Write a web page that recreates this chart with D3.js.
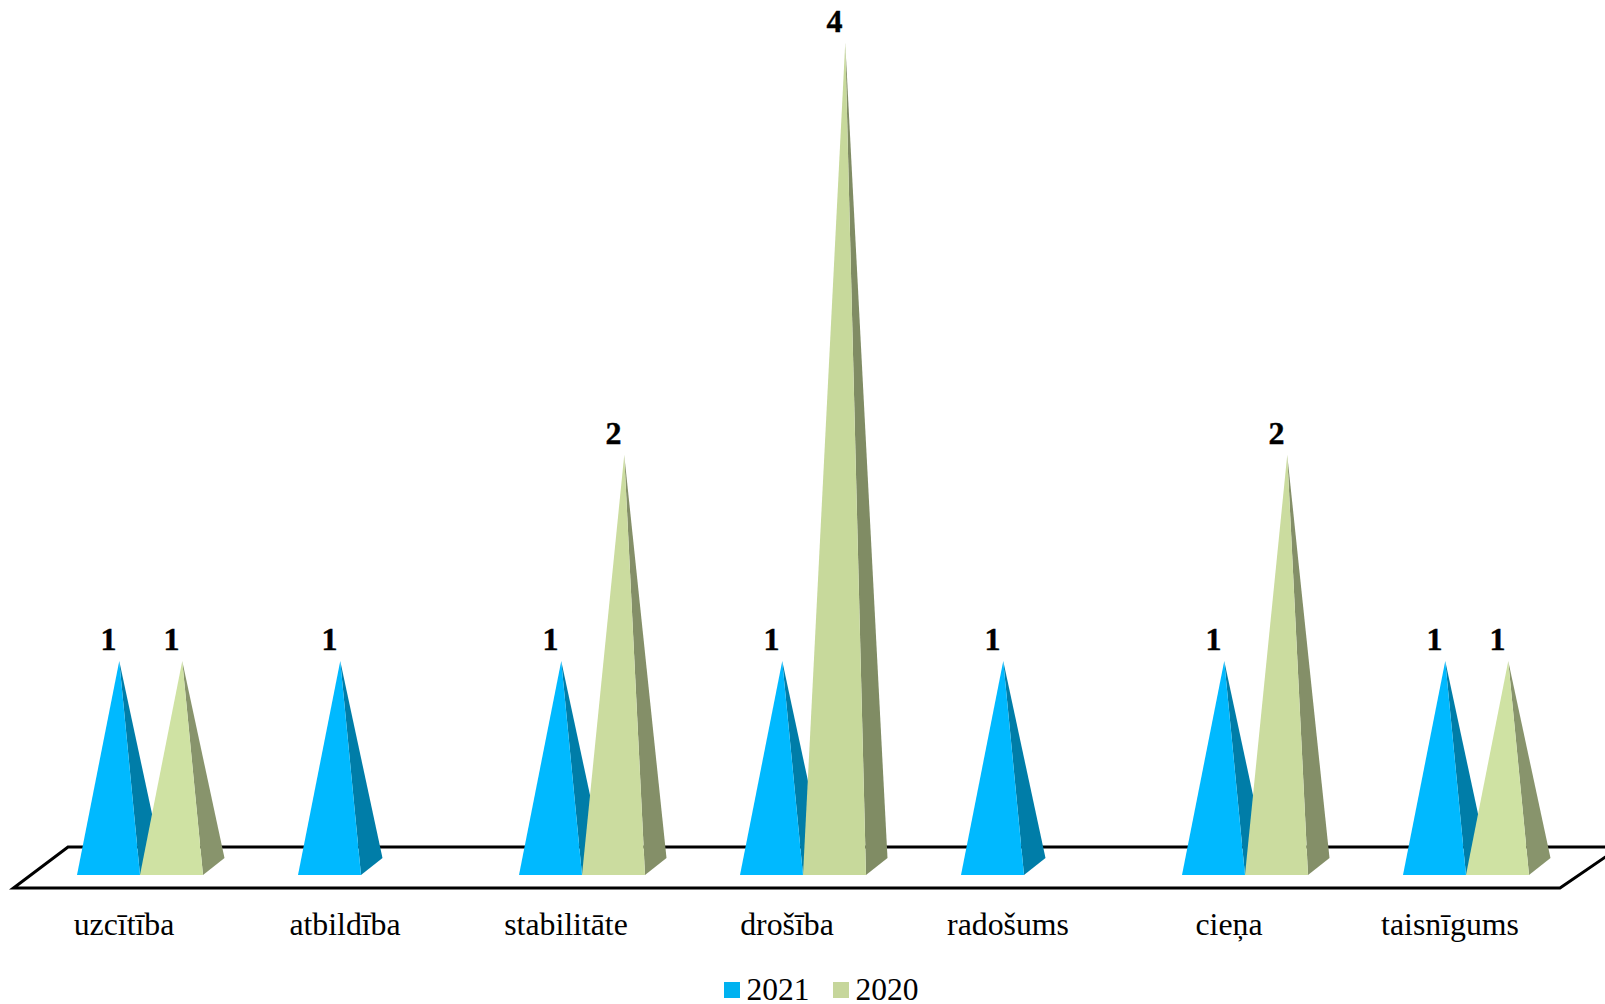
<!DOCTYPE html>
<html><head><meta charset="utf-8">
<style>html,body{margin:0;padding:0;background:#fff}svg{display:block}</style>
<script src="https://cdn.jsdelivr.net/npm/d3@7/dist/d3.min.js"></script></head>
<body><div id="chart"></div>
<script>
const categories = ["uzcītība","atbildība","stabilitāte","drošība","radošums","cieņa","taisnīgums"];
const seriesNames = ["2021","2020"];
const values2021 = [1,1,1,1,1,1,1];
const values2020 = [1,null,2,4,null,2,1];
const front2021 = "#00B9FF";
const side2021 = "#007DA8";
const front2020 = d3.scaleOrdinal().domain([1,2,4]).range(["#CFE2A3","#CBDC9F","#C7D99B"]);
const side2020 = d3.scaleOrdinal().domain([1,2,4]).range(["#88946C","#848F68","#808C64"]);
const legendColors = ["#00B2F0","#C6D69B"];
const W=1605,H=1004, font="'Liberation Serif','Times New Roman',serif";
const svg=d3.select("#chart").append("svg").attr("width",W).attr("height",H).attr("viewBox",[0,0,W,H]);
const x=d3.scaleBand().domain(categories).range([13.5,1560.5]);
const xs=d3.scaleBand().domain(seriesNames).range([63.5,189.5]);
const y=d3.scaleLinear().domain([0,4]).range([867,43]);
const baseY=875, dx=21.5, dy=17;
const line=d3.line();
svg.append("path").attr("d",line([[13.5,888],[1560,888],[1620,847],[68,847]])+"Z")
  .attr("fill","#fff").attr("stroke","#000").attr("stroke-width",3).attr("stroke-linejoin","miter");
const rows=[];
categories.forEach((c,i)=>{[values2021,values2020].forEach((vals,s)=>{if(vals[i]!=null)rows.push({c,s,v:vals[i]});});});
const g=svg.append("g");
rows.forEach(d=>{
  const l=x(d.c)+xs(seriesNames[d.s]), w=xs.bandwidth();
  const r=l+w, cx=l+(w+dx)/2, ay=y(d.v);
  g.append("path").attr("d",line([[r,baseY],[r+dx,baseY-dy],[cx,ay]])+"Z").attr("fill",d.s?side2020(d.v):side2021);
  g.append("path").attr("d",line([[l,baseY],[r,baseY],[cx,ay]])+"Z").attr("fill",d.s?front2020(d.v):front2021);
});
rows.forEach(d=>{
  const l=x(d.c)+xs(seriesNames[d.s]), w=xs.bandwidth();
  svg.append("text").attr("x",l+w/2).attr("y",y(d.v)-11).attr("text-anchor","middle")
    .attr("font-family",font).attr("font-weight","bold").attr("font-size",32).attr("fill","#000")
    .attr("stroke","#000").attr("stroke-width",0.4).text(d.v);
});
const axis=svg.append("g").attr("transform","translate(0,888)").call(d3.axisBottom(x).tickSize(0).tickPadding(24));
axis.select(".domain").remove();
axis.selectAll("text").attr("font-family",font).attr("font-size",31.8).attr("fill","#000");
const legX=[724,833];
seriesNames.forEach((n,i)=>{
  svg.append("rect").attr("x",legX[i]).attr("y",982).attr("width",16).attr("height",16).attr("fill",legendColors[i]);
  svg.append("text").attr("x",legX[i]+22.5).attr("y",999.5).attr("font-family",font).attr("font-size",31.5).attr("fill","#000").text(n);
});
</script></body></html>
